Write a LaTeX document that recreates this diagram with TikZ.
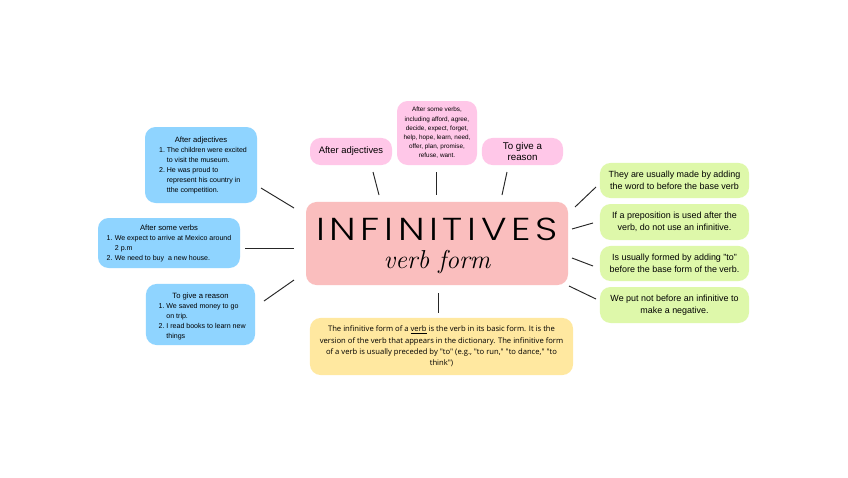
\documentclass[tikz,border=0pt]{standalone}
\usepackage{fontspec}
\setmainfont{Liberation Sans}
\newfontfamily\titlefont[LetterSpace=12]{Poppins Light}
\newfontfamily\notefont{Open Sans}

\definecolor{skyblue}{RGB}{143,212,255}
\definecolor{candypink}{RGB}{255,199,232}
\definecolor{rosepink}{RGB}{250,190,190}
\definecolor{limegreen}{RGB}{222,248,170}
\definecolor{butter}{RGB}{255,232,160}

% numbered line with hanging indent
\newcommand{\numline}[3]{\par\hangindent=#1\hangafter=1\noindent\makebox[#1][l]{#2}#3}

\begin{document}
\begin{tikzpicture}[x=0.85pt,y=-0.85pt,
  card/.style={rounded corners=9pt,inner sep=0pt,draw=none},
  bluecard/.style={card,fill=skyblue,font=\fontsize{6}{8.5}\selectfont},
  pinkcard/.style={card,fill=candypink,align=center},
  greencard/.style={card,fill=limegreen,align=center,minimum width=126.7pt,minimum height=29.8pt,font=\fontsize{7.6}{10.2}\selectfont},
  spoke/.style={draw=black!85,line width=0.8pt}]
\useasboundingbox[fill=white] (0,0) rectangle (848,477);

% left column
\node[bluecard,minimum width=95.2pt,minimum height=64.6pt] (adj-list) at (201,165) {%
  \begin{minipage}{78pt}\centering{\fontsize{6.5}{8.5}\selectfont After adjectives}\par\raggedright\leftskip=3.5pt
  \numline{6.5pt}{1.}{The children were excited\newline to visit the museum.}
  \numline{6.5pt}{2.}{He was proud to\newline represent his country in\newline tthe competition.}
  \end{minipage}};
\node[bluecard,minimum width=120.7pt,minimum height=42.5pt] (verb-list) at (169,243) {%
  \begin{minipage}{106pt}\centering{\fontsize{6.5}{8.5}\selectfont After some verbs\hspace{10pt}}\par\raggedright
  \numline{7pt}{1.}{We expect to arrive at Mexico around\newline 2 p.m}
  \numline{7pt}{2.}{We need to buy\ \ a new house.}
  \end{minipage}};
\node[bluecard,minimum width=92.7pt,minimum height=51.9pt] (reason-list) at (200.5,314.5) {%
  \begin{minipage}{78pt}\vspace*{4pt}\centering{\fontsize{6.5}{8.5}\selectfont To give a reason}\par\raggedright\leftskip=3.5pt
  \numline{6.5pt}{1.}{We saved money to go\newline on trip.}
  \numline{6.5pt}{2.}{I read books to learn new\newline things}
  \end{minipage}};

% top row
\node[pinkcard,minimum width=69.7pt,minimum height=23pt,font=\fontsize{8}{9.5}\selectfont] (adj-tag) at (351,151.5) {After adjectives};
\node[pinkcard,minimum width=68pt,minimum height=54.4pt,font=\fontsize{5.4}{7.8}\selectfont] (verb-tag) at (437,133) {After some verbs,\\including afford, agree,\\decide, expect, forget,\\help, hope, learn, need,\\offer, plan, promise,\\refuse, want.};
\node[pinkcard,minimum width=68.9pt,minimum height=23pt,font=\fontsize{8.3}{9.5}\selectfont] (reason-tag) at (522.5,151.5) {To give a\\reason};

% centre
\node[card,fill=rosepink,minimum width=222.7pt,minimum height=70.6pt] (hub) at (437,243.5) {};
\node[anchor=base,inner sep=0pt,font=\titlefont\fontsize{27}{27}\selectfont] (hub-title) at (437,240) {\scalebox{1.22}[1]{INFINITIVES}};
\node[anchor=base,inner sep=0pt,font=\fontsize{22}{22}\selectfont] (hub-sub) at (437,268) {\fontspec{Latin Modern Roman}\itshape verb form};

% right column
\node[greencard] (rule-a) at (674.5,180.5) {They are usually made by adding\\the word to before the base verb};
\node[greencard,minimum height=30.6pt] (rule-b) at (674.5,222) {If a preposition is used after the\\verb, do not use an infinitive.};
\node[greencard] (rule-c) at (674.5,263.5) {Is usually formed by adding "to"\\before the base form of the verb.};
\node[greencard,minimum height=30.6pt] (rule-d) at (674.5,305) {We put not before an infinitive to\\make a negative.};

% bottom
\node[card,fill=butter,minimum width=223.6pt,minimum height=48.5pt,align=center,font=\notefont\fontsize{6.5}{9.6}\selectfont] (definition) at (441.5,346.5) {The infinitive form of a \underline{verb} is the verb in its basic form. It is the\\version of the verb that appears in the dictionary. The infinitive form\\of a verb is usually preceded by "to" (e.g., "to run," "to dance," "to\\think")};

% spokes
\coordinate (adj-list-end) at (261,188);   \coordinate (hub-lt) at (294,208);
\coordinate (verb-list-end) at (245,248);  \coordinate (hub-lm) at (294,248);
\coordinate (reason-list-end) at (264,301); \coordinate (hub-lb) at (294,280);
\coordinate (adj-tag-end) at (373,172);    \coordinate (hub-t1) at (379,195);
\coordinate (verb-tag-end) at (436,172);   \coordinate (hub-t2) at (436,195);
\coordinate (reason-tag-end) at (507,172); \coordinate (hub-t3) at (502,195);
\coordinate (hub-r1) at (575,207); \coordinate (rule-a-end) at (596,187);
\coordinate (hub-r2) at (572,229); \coordinate (rule-b-end) at (593,223);
\coordinate (hub-r3) at (572,258); \coordinate (rule-c-end) at (593,266);
\coordinate (hub-r4) at (569,286); \coordinate (rule-d-end) at (596,299);
\coordinate (hub-b) at (438,293);  \coordinate (definition-end) at (438,313);
\draw[spoke] (adj-list-end) -- (hub-lt);
\draw[spoke] (verb-list-end) -- (hub-lm);
\draw[spoke] (reason-list-end) -- (hub-lb);
\draw[spoke] (adj-tag-end) -- (hub-t1);
\draw[spoke] (verb-tag-end) -- (hub-t2);
\draw[spoke] (reason-tag-end) -- (hub-t3);
\draw[spoke] (hub-r1) -- (rule-a-end);
\draw[spoke] (hub-r2) -- (rule-b-end);
\draw[spoke] (hub-r3) -- (rule-c-end);
\draw[spoke] (hub-r4) -- (rule-d-end);
\draw[spoke] (hub-b) -- (definition-end);
\end{tikzpicture}
\end{document}
